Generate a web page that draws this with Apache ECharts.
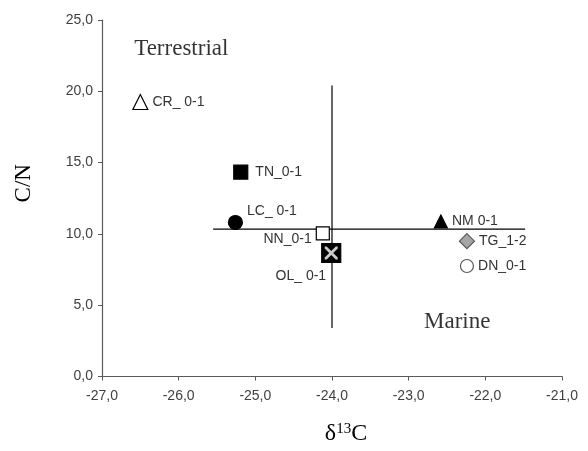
<!DOCTYPE html>
<html>
<head>
<meta charset="utf-8">
<script src="https://cdn.jsdelivr.net/npm/echarts@6/dist/echarts.min.js"></script>
<style>
  html, body { margin: 0; padding: 0; background: #fff; }
  #chart { width: 588px; height: 451px; }
</style>
</head>
<body>
<div id="chart"></div>
<script>
// sample data
const samples = ['CR_ 0-1', 'TN_0-1', 'LC_ 0-1', 'NN_0-1', 'OL_ 0-1', 'NM 0-1', 'TG_1-2', 'DN_0-1']
const d13C = [-26.50, -25.19, -25.26, -24.12, -24.01, -22.58, -22.24, -22.24]
const cn = [19.25, 14.33, 10.80, 10.04, 8.66, 10.87, 9.49, 7.75]

// crosshair separating the two sources
const hLine = [[-25.55, 10.34], [-21.48, 10.34]]
const vLine = [[-24.0, 20.4], [-24.0, 3.4]]

// zone names
const zones = ['Terrestrial', 'Marine']
const zonePos = [[-26.58, 23.0], [-22.80, 3.8]]

const xTicks = { min: -27, max: -21, step: 1 }
const yTicks = { min: 0, max: 25, step: 5 }

// per-sample marker look
const looks = {
  'CR_ 0-1': { symbol: 'triangle', size: 15, color: '#fff', border: '#000', pos: 'right', offset: [0, 0] },
  'TN_0-1': { symbol: 'rect', size: 14, color: '#000', border: '#000', pos: 'right', offset: [3, 0] },
  'LC_ 0-1': { symbol: 'circle', size: 14, color: '#000', border: '#000', pos: 'right', offset: [0, -11] },
  'NN_0-1': { symbol: 'rect', size: 13, color: '#fff', border: '#000', pos: 'left', offset: [0, 6] },
  'OL_ 0-1': { symbol: 'rect', size: 19, color: '#000', border: '#000', pos: 'left', offset: [9, 23] },
  'NM 0-1': { symbol: 'triangle', size: 13, color: '#000', border: '#000', pos: 'right', offset: [0, 0] },
  'TG_1-2': { symbol: 'diamond', size: 15, color: '#a6a6a6', border: '#595959', pos: 'right', offset: [0, 0] },
  'DN_0-1': { symbol: 'circle', size: 13, color: '#fff', border: '#595959', pos: 'right', offset: [0, 0] }
}

const fmt = v => v.toFixed(1).replace('.', ',')
const sans = 'Liberation Sans, Arial'
const serif = 'Liberation Serif, Times New Roman'

const chart = echarts.init(document.getElementById('chart'))

const sampleSeries = samples.map((name, i) => {
  const lk = looks[name]
  return {
    name: name,
    type: 'scatter',
    z: 5,
    symbol: lk.symbol,
    symbolSize: lk.size,
    itemStyle: { color: lk.color, borderColor: lk.border, borderWidth: 1.2, opacity: 1 },
    label: {
      show: true,
      position: lk.pos,
      offset: lk.offset,
      distance: 4,
      formatter: name,
      fontFamily: sans,
      fontSize: 14,
      color: '#333'
    },
    data: [[d13C[i], cn[i]]]
  }
})

// white cross on the OL marker
const olIdx = samples.indexOf('OL_ 0-1')
const crossSeries = {
  type: 'scatter',
  z: 6,
  symbol: 'path://M0,0 L1.5,0 L5,3.5 L8.5,0 L10,0 L10,1.5 L6.5,5 L10,8.5 L10,10 L8.5,10 L5,6.5 L1.5,10 L0,10 L0,8.5 L3.5,5 L0,1.5 Z',
  symbolSize: 13,
  itemStyle: { color: '#fff' },
  silent: true,
  data: [[d13C[olIdx], cn[olIdx]]]
}

const lineStyle = { color: '#000', width: 1.2 }

const option = {
  animation: false,
  backgroundColor: '#fff',
  grid: { left: 102, right: 26, top: 20, bottom: 69 },
  xAxis: {
    type: 'value',
    min: xTicks.min,
    max: xTicks.max,
    interval: xTicks.step,
    splitLine: { show: false },
    axisLine: { lineStyle: { color: '#595959', width: 1.2 } },
    axisTick: { show: true, length: 4, lineStyle: { color: '#595959' } },
    axisLabel: { formatter: fmt, fontFamily: sans, fontSize: 14, color: '#404040', margin: 13 },
    name: '{d|δ}{s|13}{d|C}',
    nameLocation: 'middle',
    nameGap: 45,
    nameTextStyle: {
      padding: [0, 0, 0, 28],
      rich: {
        d: { fontFamily: serif, fontSize: 24, color: '#000' },
        s: { fontFamily: serif, fontSize: 15, color: '#000', verticalAlign: 'top', padding: [0, 0, 10, 0] }
      }
    }
  },
  yAxis: {
    type: 'value',
    min: yTicks.min,
    max: yTicks.max,
    interval: yTicks.step,
    splitLine: { show: false },
    axisLine: { show: true, lineStyle: { color: '#595959', width: 1.2 } },
    axisTick: { show: true, length: 4, lineStyle: { color: '#595959' } },
    axisLabel: { formatter: fmt, fontFamily: sans, fontSize: 14, color: '#404040', margin: 9 },
    name: 'C/N',
    nameLocation: 'middle',
    nameGap: 67,
    nameRotate: 90,
    nameTextStyle: { fontFamily: serif, fontSize: 23, color: '#000', padding: [0, 0, 0, 30] }
  },
  series: [
    { type: 'line', data: hLine, symbol: 'none', lineStyle: lineStyle, z: 2, silent: true },
    { type: 'line', data: vLine, symbol: 'none', lineStyle: lineStyle, z: 2, silent: true },
    {
      type: 'scatter',
      symbolSize: 0,
      z: 3,
      silent: true,
      label: {
        show: true,
        position: 'inside',
        formatter: p => zones[p.dataIndex],
        fontFamily: serif,
        fontSize: 23,
        color: '#000',
        align: 'left'
      },
      data: zonePos
    }
  ].concat(sampleSeries, [crossSeries])
}

chart.setOption(option)
</script>
</body>
</html>
